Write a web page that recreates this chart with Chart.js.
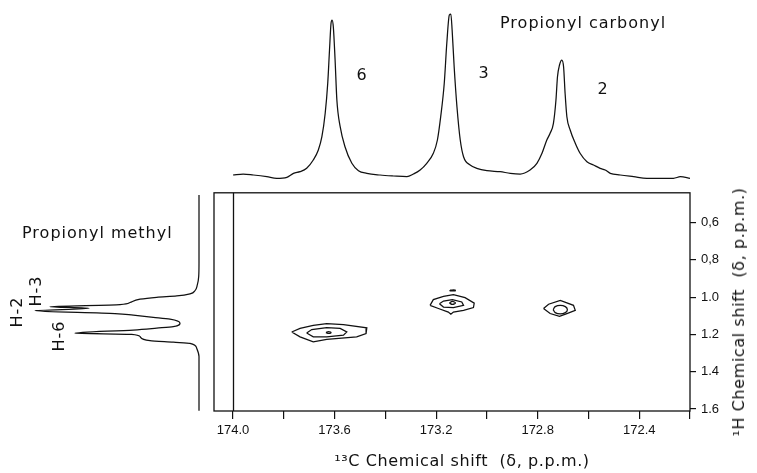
<!DOCTYPE html>
<html>
<head>
<meta charset="utf-8">
<script src="https://cdn.jsdelivr.net/npm/chart.js@4"></script>
<style>
  html, body { margin: 0; padding: 0; background: #fff; }
  #wrap { position: relative; width: 757px; height: 473px; overflow: hidden; background: #fff; }
  canvas { position: absolute; }
  .lbl {
    position: absolute;
    font-family: "DejaVu Sans", sans-serif;
    font-size: 16px;
    line-height: 16px;
    color: #111;
    white-space: nowrap;
    letter-spacing: 1px;
  }
  .ctr { transform: translate(-50%, -50%); }
  .rot { transform: translate(-50%, -50%) rotate(-90deg); }
</style>
</head>
<body>
<div id="wrap">
  <canvas id="top-trace" width="557" height="185" style="left:200px;top:0"></canvas>
  <canvas id="side-trace" width="214" height="293" style="left:0;top:180px"></canvas>
  <canvas id="main-map" width="557" height="293" style="left:200px;top:180px"></canvas>

  <div class="lbl" style="left:500px;top:15px">Propionyl carbonyl</div>
  <div class="lbl ctr" style="left:362px;top:75px">6</div>
  <div class="lbl ctr" style="left:484px;top:73px">3</div>
  <div class="lbl ctr" style="left:603px;top:89px">2</div>

  <div class="lbl" style="left:22px;top:225px">Propionyl methyl</div>
  <div class="lbl rot" style="left:17px;top:312px">H-2</div>
  <div class="lbl rot" style="left:36px;top:291px">H-3</div>
  <div class="lbl rot" style="left:59px;top:336px">H-6</div>

  <div class="lbl ctr" style="left:462px;top:461px;letter-spacing:0.6px">¹³C Chemical shift&nbsp; (δ, p.p.m.)</div>
  <div class="lbl rot" style="left:739px;top:312px;letter-spacing:0.6px">¹H Chemical shift&nbsp; (δ, p.p.m.)</div>
</div>

<script>
// --- axis ranges / ticks ---
const carbonRange = [172.2, 174.075];   // 13C, p.p.m. (plotted high -> low)
const protonRange = [0.44, 1.611];      // 1H, p.p.m. (plotted low at top)
const xTickValues = [174.0, 173.8, 173.6, 173.4, 173.2, 173.0, 172.8, 172.6, 172.4, 172.2];
const xTickLabels = ['174.0', '', '173.6', '', '173.2', '', '172.8', '', '172.4', ''];
const yTickValues = [0.6, 0.8, 1.0, 1.2, 1.4, 1.6];
const yTickLabels = ['0,6', '0,8', '1.0', '1.2', '1.4', '1.6'];
const innerLineShift = 174.0;

// --- 1D 13C trace (propionyl carbonyl) ---
const carbonylShift = [174.00, 173.96, 173.92, 173.867, 173.828, 173.788, 173.762, 173.736, 173.71, 173.684,
  173.664, 173.65, 173.637, 173.627, 173.62, 173.614, 173.61, 173.605, 173.598, 173.591,
  173.578, 173.559, 173.532, 173.506, 173.473, 173.421, 173.368, 173.315, 173.289, 173.263,
  173.237, 173.211, 173.195, 173.182, 173.168, 173.158, 173.148, 173.142, 173.137, 173.129,
  173.118, 173.105, 173.092, 173.066, 173.04, 173.0, 172.948, 172.908, 172.869, 172.83,
  172.803, 172.783, 172.764, 172.751, 172.738, 172.728, 172.722, 172.714, 172.705, 172.698,
  172.692, 172.685, 172.672, 172.652, 172.633, 172.606, 172.58, 172.554, 172.534, 172.514,
  172.475, 172.422, 172.37, 172.317, 172.265, 172.238, 172.2];
const carbonylIntensity = [0, 1, 0, -1.7, -3.3, -2.3, 1.7, 3.3, 6.7, 15,
  25, 38.3, 61.7, 91.7, 125, 151.7, 155, 148.3, 115, 75,
  48.3, 28.3, 11.7, 4.3, 1.7, 0, -1, -1.7, 1, 5,
  11.7, 21.7, 35, 58.3, 91.7, 131.7, 160, 161, 145, 108.3,
  68.3, 35, 18.3, 10, 6.7, 4.3, 3.3, 1.7, 1, 5,
  11.7, 21.7, 35, 41.7, 51.7, 75, 98.3, 110, 115, 108.3,
  81.7, 58.3, 45, 31.7, 21.7, 13.3, 10, 6.7, 5, 1.7,
  0, -1.7, -3.3, -3.3, -3.3, -1.7, -3.3];

// --- 1D 1H trace (propionyl methyl) ---
const methylShift = [0.456, 0.643, 0.821, 0.892, 0.937, 0.967, 0.985, 0.996, 1.003, 1.013,
  1.031, 1.042, 1.053, 1.062, 1.075, 1.090, 1.099, 1.110, 1.120, 1.142,
  1.160, 1.168, 1.178, 1.195, 1.201, 1.213, 1.235, 1.243, 1.249, 1.275,
  1.320, 1.445, 1.61];
const methylIntensity = [0, 0, 0, 0.3, 1.7, 4, 9, 22.3, 42.3, 59,
  69, 79, 149, 110, 164, 84, 65.7, 45.7, 29, 19,
  25.7, 42.3, 65.7, 124, 67.3, 59, 49, 25.7, 9, 2.3,
  0, 0, 0];

// --- 2D contours: [13C, 1H] ---
const h6Outer = [[173.769, 1.187], [173.736, 1.168], [173.684, 1.151], [173.631, 1.142], [173.565, 1.147],
  [173.473, 1.165], [173.476, 1.195], [173.513, 1.213], [173.631, 1.227], [173.684, 1.240],
  [173.736, 1.213], [173.769, 1.187]];
const h6Inner = [[173.710, 1.192], [173.690, 1.174], [173.631, 1.163], [173.578, 1.168], [173.552, 1.187],
  [173.565, 1.204], [173.631, 1.213], [173.684, 1.213], [173.710, 1.192]];
const h6Core = [[173.634, 1.190], [173.624, 1.185], [173.614, 1.190], [173.624, 1.195], [173.634, 1.190]];

const h3Outer = [[173.224, 1.044], [173.211, 1.013], [173.171, 0.996], [173.132, 0.987], [173.086, 1.003],
  [173.050, 1.032], [173.053, 1.056], [173.092, 1.071], [173.132, 1.080], [173.142, 1.092],
  [173.152, 1.080], [173.191, 1.061], [173.224, 1.044]];
const h3Inner = [[173.187, 1.035], [173.171, 1.021], [173.136, 1.013], [173.099, 1.026], [173.092, 1.044],
  [173.132, 1.056], [173.171, 1.053], [173.187, 1.035]];
const h3Core = [[173.148, 1.031], [173.136, 1.023], [173.124, 1.031], [173.136, 1.039], [173.148, 1.031]];
const h3Speck = [[173.145, 0.962], [173.125, 0.962], [173.125, 0.966], [173.145, 0.966], [173.145, 0.962]];

const h2Outer = [[172.777, 1.061], [172.757, 1.038], [172.711, 1.017], [172.659, 1.044], [172.652, 1.071],
  [172.685, 1.088], [172.714, 1.103], [172.751, 1.088], [172.777, 1.061]];
const h2Inner = [[172.739, 1.067], [172.731, 1.051], [172.711, 1.044], [172.691, 1.051], [172.683, 1.067],
  [172.691, 1.083], [172.711, 1.090], [172.731, 1.083], [172.739, 1.067]];

const INK = '#111';
const tickFont = { family: '"Liberation Sans Narrow", "Liberation Sans", sans-serif', size: 13 };

function pairs(list) {
  return list.map(p => ({ x: p[0], y: p[1] }));
}

function traceSet(points, tension) {
  return {
    data: points,
    showLine: true,
    borderColor: INK,
    borderWidth: 1.25,
    pointRadius: 0,
    tension: tension || 0,
    clip: false
  };
}

// spectra: smooth but no overshoot at the sharp tops
function spectrumSet(points) {
  const ds = traceSet(points);
  ds.cubicInterpolationMode = 'monotone';
  return ds;
}

const baseOptions = {
  responsive: false,
  animation: false,
  events: [],
  plugins: { legend: { display: false }, tooltip: { enabled: false } }
};

// Box round the contour map, plus the inner line at 174.0
const frame = {
  id: 'frame',
  afterDraw(chart) {
    const { ctx, chartArea: a, scales } = chart;
    ctx.save();
    ctx.strokeStyle = INK;
    ctx.lineWidth = 1.3;
    ctx.strokeRect(a.left, a.top, a.right - a.left, a.bottom - a.top);
    const x0 = Math.round(scales.x.getPixelForValue(innerLineShift)) + 0.5;
    ctx.beginPath();
    ctx.moveTo(x0, a.top);
    ctx.lineTo(x0, a.bottom);
    ctx.stroke();
    ctx.restore();
  }
};

// --- top trace ---
new Chart(document.getElementById('top-trace'), {
  type: 'scatter',
  data: {
    datasets: [spectrumSet(carbonylShift.map((s, i) => ({ x: s, y: carbonylIntensity[i] })))]
  },
  options: {
    ...baseOptions,
    layout: { padding: { left: 14, right: 67, top: 0, bottom: 0 } },
    scales: {
      x: { type: 'linear', display: false, reverse: true, min: carbonRange[0], max: carbonRange[1] },
      y: { type: 'linear', display: false, min: -10, max: 175 }
    }
  }
});

// --- side trace ---
new Chart(document.getElementById('side-trace'), {
  type: 'scatter',
  data: {
    datasets: [spectrumSet(methylShift.map((s, i) => ({ x: methylIntensity[i], y: s })))]
  },
  options: {
    ...baseOptions,
    indexAxis: 'y',
    layout: { padding: { left: 0, right: 0, top: 12, bottom: 62 } },
    scales: {
      x: { type: 'linear', display: false, reverse: true, min: -15, max: 199 },
      y: { type: 'linear', display: false, reverse: true, min: protonRange[0], max: protonRange[1] }
    }
  }
});

// --- 2D contour map ---
const contours = [h6Outer, h6Inner, h6Core, h3Outer, h3Inner, h3Core, h3Speck, h2Outer, h2Inner];

new Chart(document.getElementById('main-map'), {
  type: 'scatter',
  data: {
    datasets: contours.map(c => traceSet(pairs(c), c === h2Inner || c.length === 5 ? 0.4 : 0))
  },
  options: {
    ...baseOptions,
    layout: { padding: { left: 14, right: 0, top: 12, bottom: 0 } },
    scales: {
      x: {
        type: 'linear',
        position: 'bottom',
        reverse: true,
        min: carbonRange[0],
        max: carbonRange[1],
        afterBuildTicks: s => { s.ticks = xTickValues.map(v => ({ value: v })); },
        afterFit: s => { s.height = 62; },
        ticks: {
          autoSkip: false,
          maxRotation: 0,
          padding: 4,
          color: INK,
          font: tickFont,
          callback: (v, i) => xTickLabels[i]
        },
        grid: { drawOnChartArea: false, drawTicks: true, tickLength: 8, color: INK, lineWidth: 1.2 },
        border: { display: false }
      },
      y: {
        type: 'linear',
        position: 'right',
        reverse: true,
        min: protonRange[0],
        max: protonRange[1],
        afterBuildTicks: s => { s.ticks = yTickValues.map(v => ({ value: v })); },
        afterFit: s => { s.width = 67; },
        ticks: {
          padding: 5,
          color: INK,
          font: tickFont,
          callback: (v, i) => yTickLabels[i]
        },
        grid: { drawOnChartArea: false, drawTicks: true, tickLength: 6, color: INK, lineWidth: 1.2 },
        border: { display: false }
      }
    }
  },
  plugins: [frame]
});
</script>
</body>
</html>
